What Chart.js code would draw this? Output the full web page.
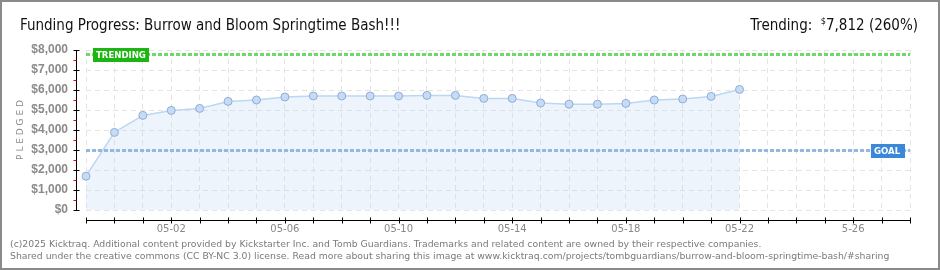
<!DOCTYPE html>
<html>
<head>
<meta charset="utf-8">
<script src="https://cdn.jsdelivr.net/npm/chart.js@4"></script>
<style>
  html, body { margin: 0; padding: 0; background: #fff; }
  #wrap { position: relative; width: 940px; height: 270px; box-sizing: border-box; border: 2px solid #8a8a8a; overflow: hidden; }
  #chart { position: absolute; left: -2px; top: -2px; }
  #title { position: absolute; left: 18px; top: 14px; font: 15px "DejaVu Sans Condensed", "DejaVu Sans", sans-serif; color: #111; white-space: nowrap; }
  #trend { position: absolute; right: 20px; top: 14px; font: 15px "DejaVu Sans Condensed", "DejaVu Sans", sans-serif; color: #111; white-space: nowrap; }
  #trend sup { font-size: 9px; vertical-align: 6px; }
  #foot { position: absolute; left: 8px; top: 236px; font: 9.3px "DejaVu Sans", sans-serif; color: #7a7a7a; line-height: 12px; white-space: nowrap; }
</style>
</head>
<body>
<div id="wrap">
  <canvas id="chart" width="940" height="270"></canvas>
  <div id="title">Funding Progress: Burrow and Bloom Springtime Bash!!!</div>
  <div id="trend">Trending:&nbsp; <sup>$</sup>7,812 (260%)</div>
  <div id="foot">(c)2025 Kicktraq. Additional content provided by Kickstarter Inc. and Tomb Guardians. Trademarks and related content are owned by their respective companies.<br>Shared under the creative commons (CC BY-NC 3.0) license. Read more about sharing this image at www.kicktraq.com/projects/tombguardians/burrow-and-bloom-springtime-bash/#sharing</div>
</div>
<script>
// days on the x axis (one per day)
const days = ['04-29', '04-30', '05-01', '05-02', '05-03', '05-04', '05-05', '05-06', '05-07', '05-08',
    '05-09', '05-10', '05-11', '05-12', '05-13', '05-14', '05-15', '05-16', '05-17', '05-18',
    '05-19', '05-20', '05-21', '05-22', '05-23', '05-24', '05-25', '05-26', '05-27', '05-28'];
// labels shown under the axis
const shownLabels = { '05-02': '05-02', '05-06': '05-06', '05-10': '05-10', '05-14': '05-14',
    '05-18': '05-18', '05-22': '05-22', '05-26': '5-26' };
// cumulative pledged, in dollars
const pledged = [1690, 3880, 4730, 4980, 5080, 5430, 5500, 5650, 5700, 5700,
    5700, 5700, 5730, 5730, 5580, 5580, 5350, 5290, 5290, 5330,
    5500, 5550, 5680, 6030];
const goal = 3000;
const trending = 7812;
const yMax = 8000;

// axis lines, ticks, goal/trending markers
const kicktraqBits = {
    id: 'kicktraqBits',
    afterDatasetsDraw(chart) {
        const { ctx, chartArea: a, scales: { x, y } } = chart;
        ctx.save();

        function marker(value, color, boxColor, text, boxX, boxW) {
            const py = Math.round(y.getPixelForValue(value));
            ctx.strokeStyle = color;
            ctx.lineWidth = 3;
            ctx.setLineDash([4, 2]);
            ctx.beginPath();
            ctx.moveTo(a.left, py + 0.5);
            ctx.lineTo(a.right, py + 0.5);
            ctx.stroke();
            ctx.setLineDash([]);
            ctx.fillStyle = boxColor;
            ctx.fillRect(boxX, py - 6, boxW, 14);
            ctx.fillStyle = '#fff';
            ctx.font = 'bold 9.5px "DejaVu Sans Condensed", "DejaVu Sans", sans-serif';
            ctx.textAlign = 'left';
            ctx.textBaseline = 'middle';
            ctx.fillText(text, boxX + 3, py + 1.5);
        }
        marker(trending, '#6fd86a', '#1db512', 'TRENDING', 93, 56);
        marker(goal, '#93b8e2', '#3c88d8', 'GOAL', 871, 34);

        // x axis
        const xl = a.bottom + 10.5;
        ctx.strokeStyle = '#000';
        ctx.lineWidth = 1;
        ctx.beginPath();
        ctx.moveTo(a.left, xl);
        ctx.lineTo(a.right, xl);
        days.forEach((d, i) => {
            const px = Math.round(x.getPixelForValue(i)) + 0.5;
            ctx.moveTo(px, xl - 3);
            ctx.lineTo(px, xl + 3);
        });
        ctx.stroke();

        // y axis
        const yl = a.left - 9.5;
        ctx.beginPath();
        ctx.moveTo(yl, a.top);
        ctx.lineTo(yl, a.bottom);
        for (let v = 0; v <= yMax; v += 1000) {
            const py = Math.round(y.getPixelForValue(v)) + 0.5;
            ctx.moveTo(yl - 3, py);
            ctx.lineTo(yl + 3, py);
        }
        ctx.stroke();
        ctx.strokeStyle = '#e00000';
        ctx.beginPath();
        for (let v = 500; v < yMax; v += 1000) {
            const py = Math.round(y.getPixelForValue(v)) + 0.5;
            ctx.moveTo(yl - 3, py);
            ctx.lineTo(yl, py);
        }
        ctx.stroke();

        // y axis title
        ctx.translate(21, (a.top + a.bottom) / 2);
        ctx.rotate(-Math.PI / 2);
        ctx.fillStyle = '#8a8a8a';
        ctx.font = '9px "DejaVu Sans", sans-serif';
        ctx.textAlign = 'center';
        ctx.textBaseline = 'middle';
        ctx.fillText('P L E D G E D', 0, 0);
        ctx.restore();
    }
};

const ctx = document.getElementById('chart').getContext('2d');
new Chart(ctx, {
    type: 'line',
    data: {
        labels: days,
        datasets: [{
            data: pledged,
            borderColor: '#bcd7f4',
            borderWidth: 1.5,
            backgroundColor: 'rgba(190,215,245,0.28)',
            fill: 'origin',
            tension: 0,
            pointRadius: 4,
            pointBackgroundColor: '#c4dcf8',
            pointBorderColor: '#93acd0',
            pointBorderWidth: 1
        }]
    },
    options: {
        responsive: false,
        animation: false,
        layout: { padding: { top: 50, right: 30, left: 0, bottom: 0 } },
        plugins: { legend: { display: false }, tooltip: { enabled: false } },
        scales: {
            x: {
                offset: false,
                afterFit: s => { s.height = 60; },
                border: { display: false, dash: [5, 4] },
                grid: { color: '#e4e4e4', drawTicks: false },
                ticks: {
                    autoSkip: false,
                    maxRotation: 0,
                    padding: 13,
                    color: '#888',
                    font: { family: '"DejaVu Sans", sans-serif', size: 10 },
                    callback: (v, i) => shownLabels[days[i]] || ''
                }
            },
            y: {
                min: 0,
                max: yMax,
                afterFit: s => { s.width = 86; },
                border: { display: false, dash: [5, 4] },
                grid: { color: '#e4e4e4', drawTicks: false },
                ticks: {
                    stepSize: 1000,
                    padding: 18,
                    color: '#8a8a8a',
                    font: { family: '"Liberation Sans", sans-serif', size: 12, weight: 'bold' },
                    callback: v => '$' + v.toLocaleString('en-US')
                }
            }
        }
    },
    plugins: [kicktraqBits]
});
</script>
</body>
</html>
